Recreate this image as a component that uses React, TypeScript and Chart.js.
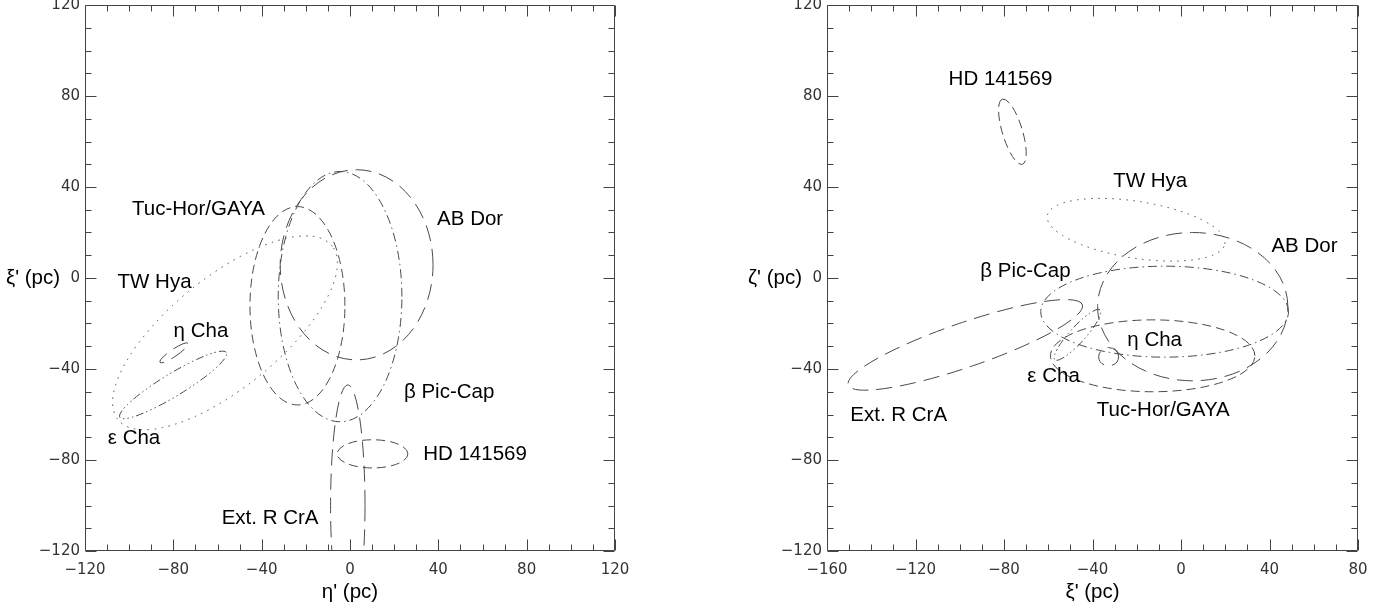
import React, { useEffect, useRef } from 'react';
import { Chart, registerables } from 'chart.js';

Chart.register(...registerables);

// ---------- data ----------
const groups = ['AB Dor', 'Tuc-Hor/GAYA', 'TW Hya', 'β Pic-Cap', 'η Cha', 'ε Cha', 'HD 141569', 'Ext. R CrA'];
const groupLine = ['long', 'dashed', 'dotted', 'dashdot', 'long', 'dashdotdot', 'dashed', 'long'];

// Left panel: η' (x) vs ξ' (y), in pc. Ellipse centre, semi-axes, tilt (deg, CCW)
const leftXTicks = [-120, -80, -40, 0, 40, 80, 120];
const leftYTicks = [-120, -80, -40, 0, 40, 80, 120];
const leftCx = [3, -23.8, -56.6, -4.5, -79.7, -80.1, 10.2, -1];
const leftCy = [5.8, -12.2, -24.1, -8.2, -32.9, -47, -77.3, -100];
const leftA = [34.6, 21.5, 61.7, 28, 7.6, 28, 16, 7.8];
const leftB = [41.8, 43.6, 24.5, 55, 1.6, 5, 6.2, 53];
const leftTilt = [0, 0, 38, 0, 33.5, 30.5, 0, 0];
const leftLabelX = [54.4, -68.6, -88.5, 44.9, -67.5, -97.8, 56.6, -36.2];
const leftLabelY = [25.6, 30, -2.1, -50.1, -23.6, -70.7, -77.3, -105.5];

// Right panel: ξ' (x) vs ζ' (y), in pc
const rightXTicks = [-160, -120, -80, -40, 0, 40, 80];
const rightYTicks = [-120, -80, -40, 0, 40, 80, 120];
const rightCx = [5.3, -12.8, -20.3, -7.4, -32.7, -46.8, -76.2, -97.5];
const rightCy = [-12.6, -34.2, 21.2, -14.8, -34.6, -25, 64.3, -29.4];
const rightA = [43, 46.2, 40.6, 56, 4.5, 15, 15, 55.8];
const rightB = [32.6, 15.8, 12.5, 20, 4, 3.5, 4.5, 9.8];
const rightTilt = [0, 0, -8.7, 0, 0, 47, 107.6, 18.4];
const rightLabelX = [55.8, -8, -13.9, -70.3, -11.9, -57.6, -81.6, -127.6];
const rightLabelY = [13.8, -58, 42.3, 2.8, -27.2, -43.4, 87.2, -60.2];

// ---------- styles ----------
const DASH: Record<string, number[]> = {
  long: [16, 8],
  dashed: [9, 5],
  dotted: [1.5, 5.5],
  dashdot: [9, 4, 1.5, 4],
  dashdotdot: [8, 3, 1.5, 3, 1.5, 3, 1.5, 3],
};
const LINE_COLOR = '#4a4a4a';
const FRAME_COLOR = '#444';
const LABEL_FONT = '20.5px "Liberation Sans", Arial, Helvetica, sans-serif';
const TICK_FONT = { family: '"DejaVu Sans", sans-serif', size: 15 };

const fmt = (v: number | string) => {
  const n = Number(v);
  return n < 0 ? '\u2212' + Math.abs(n) : String(n);
};

type PanelDef = {
  xTicks: number[];
  yTicks: number[];
  cx: number[];
  cy: number[];
  a: number[];
  b: number[];
  tilt: number[];
  lx: number[];
  ly: number[];
  xTitle: string;
  yTitle: string;
  yAxisWidth: number;
  padRight: number;
  left: number;
};

function makeOverlay(p: PanelDef) {
  return {
    id: 'overlay',
    afterDatasetsDraw(chart: any) {
      const { ctx, chartArea } = chart;
      const xs = chart.scales.x;
      const ys = chart.scales.y;
      const sx = xs.getPixelForValue(1) - xs.getPixelForValue(0);
      const sy = ys.getPixelForValue(0) - ys.getPixelForValue(1);
      ctx.save();
      ctx.beginPath();
      ctx.rect(chartArea.left, chartArea.top, chartArea.right - chartArea.left, chartArea.bottom - chartArea.top);
      ctx.clip();
      chart.data.datasets.forEach((ds: any) => {
        const pt = ds.data[0];
        const e = ds.ellipse;
        ctx.save();
        ctx.beginPath();
        ctx.translate(xs.getPixelForValue(pt.x), ys.getPixelForValue(pt.y));
        ctx.scale(sx, -sy);
        ctx.ellipse(0, 0, e.a, e.b, (e.tilt * Math.PI) / 180, 0, Math.PI * 2);
        ctx.restore();
        ctx.setLineDash(DASH[e.line]);
        ctx.lineWidth = 1;
        ctx.strokeStyle = LINE_COLOR;
        ctx.stroke();
      });
      ctx.restore();

      // group labels
      ctx.save();
      ctx.font = LABEL_FONT;
      ctx.fillStyle = '#000';
      ctx.textAlign = 'center';
      ctx.textBaseline = 'middle';
      chart.data.datasets.forEach((ds: any) => {
        ctx.fillText(ds.label, xs.getPixelForValue(ds.labelAt.x), ys.getPixelForValue(ds.labelAt.y));
      });
      // y axis title (horizontal, beside the 0 tick)
      ctx.textAlign = 'left';
      ctx.fillText(p.yTitle, chartArea.left - 79, ys.getPixelForValue(0));
      ctx.restore();
    },
    afterDraw(chart: any) {
      const { ctx, chartArea } = chart;
      const xs = chart.scales.x;
      const ys = chart.scales.y;
      const L = Math.round(chartArea.left) + 0.5;
      const R = Math.round(chartArea.right) - 0.5;
      const T = Math.round(chartArea.top) + 0.5;
      const B = Math.round(chartArea.bottom) - 0.5;
      ctx.save();
      ctx.strokeStyle = FRAME_COLOR;
      ctx.lineWidth = 1;
      ctx.setLineDash([]);
      ctx.beginPath();
      ctx.rect(L, T, R - L, B - T);
      const minor = 10;
      for (let v = xs.min; v <= xs.max + 1e-6; v += minor) {
        const isMajor = p.xTicks.includes(Math.round(v));
        const len = isMajor ? 11 : 6;
        const x = Math.round(xs.getPixelForValue(v)) + 0.5;
        ctx.moveTo(x, B);
        ctx.lineTo(x, B - len);
        ctx.moveTo(x, T);
        ctx.lineTo(x, T + len);
      }
      for (let v = ys.min; v <= ys.max + 1e-6; v += minor) {
        const isMajor = p.yTicks.includes(Math.round(v));
        const len = isMajor ? 11 : 6;
        const y = Math.round(ys.getPixelForValue(v)) + 0.5;
        ctx.moveTo(L, y);
        ctx.lineTo(L + len, y);
        ctx.moveTo(R, y);
        ctx.lineTo(R - len, y);
      }
      ctx.stroke();
      ctx.restore();
    },
  };
}

function buildConfig(p: PanelDef): any {
  return {
    type: 'scatter',
    data: {
      datasets: groups.map((g, i) => ({
        label: g,
        data: [{ x: p.cx[i], y: p.cy[i] }],
        pointRadius: 0,
        ellipse: { a: p.a[i], b: p.b[i], tilt: p.tilt[i], line: groupLine[i] },
        labelAt: { x: p.lx[i], y: p.ly[i] },
      })),
    },
    options: {
      animation: false,
      responsive: false,
      devicePixelRatio: 1,
      layout: { padding: { left: 0, right: p.padRight, top: 5, bottom: 0 } },
      plugins: { legend: { display: false }, tooltip: { enabled: false } },
      scales: {
        x: {
          type: 'linear',
          min: p.xTicks[0],
          max: p.xTicks[p.xTicks.length - 1],
          afterBuildTicks: (s: any) => {
            s.ticks = p.xTicks.map((v) => ({ value: v }));
          },
          afterFit: (s: any) => {
            s.height = 57;
            s.paddingLeft = 0;
            s.paddingRight = 0;
          },
          grid: { display: false, drawTicks: false, tickLength: 0 },
          border: { display: false },
          ticks: {
            padding: 10,
            font: TICK_FONT,
            color: '#333',
            maxRotation: 0,
            autoSkip: false,
            callback: fmt,
          },
          title: {
            display: true,
            text: p.xTitle,
            color: '#000',
            font: { family: '"Liberation Sans", Arial, sans-serif', size: 20.5 },
            padding: { top: 0, bottom: 3 },
          },
        },
        y: {
          type: 'linear',
          min: p.yTicks[0],
          max: p.yTicks[p.yTicks.length - 1],
          afterBuildTicks: (s: any) => {
            s.ticks = p.yTicks.map((v) => ({ value: v }));
          },
          afterFit: (s: any) => {
            s.width = p.yAxisWidth;
            s.paddingTop = 0;
            s.paddingBottom = 0;
          },
          grid: { display: false, drawTicks: false, tickLength: 0 },
          border: { display: false },
          ticks: {
            padding: 5,
            font: TICK_FONT,
            color: '#333',
            autoSkip: false,
            callback: fmt,
          },
        },
      },
    },
    plugins: [makeOverlay(p)],
  };
}

const leftPanel: PanelDef = {
  xTicks: leftXTicks,
  yTicks: leftYTicks,
  cx: leftCx,
  cy: leftCy,
  a: leftA,
  b: leftB,
  tilt: leftTilt,
  lx: leftLabelX,
  ly: leftLabelY,
  xTitle: "η' (pc)",
  yTitle: "ξ' (pc)",
  yAxisWidth: 85,
  padRight: 80,
  left: 0,
};

const rightPanel: PanelDef = {
  xTicks: rightXTicks,
  yTicks: rightYTicks,
  cx: rightCx,
  cy: rightCy,
  a: rightA,
  b: rightB,
  tilt: rightTilt,
  lx: rightLabelX,
  ly: rightLabelY,
  xTitle: "ξ' (pc)",
  yTitle: "ζ' (pc)",
  yAxisWidth: 132,
  padRight: 32,
  left: 695,
};

function Panel({ def }: { def: PanelDef }) {
  const ref = useRef<HTMLCanvasElement | null>(null);
  useEffect(() => {
    if (!ref.current) return;
    const chart = new Chart(ref.current, buildConfig(def));
    return () => chart.destroy();
  }, [def]);
  return (
    <div style={{ position: 'absolute', left: def.left, top: 0, width: 695, height: 608 }}>
      <canvas ref={ref} width={695} height={608} style={{ width: 695, height: 608, display: 'block' }} />
    </div>
  );
}

export default function App() {
  return (
    <div style={{ position: 'fixed', left: 0, top: 0, width: 1390, height: 608, background: '#fff', overflow: 'hidden' }}>
      <Panel def={leftPanel} />
      <Panel def={rightPanel} />
    </div>
  );
}
